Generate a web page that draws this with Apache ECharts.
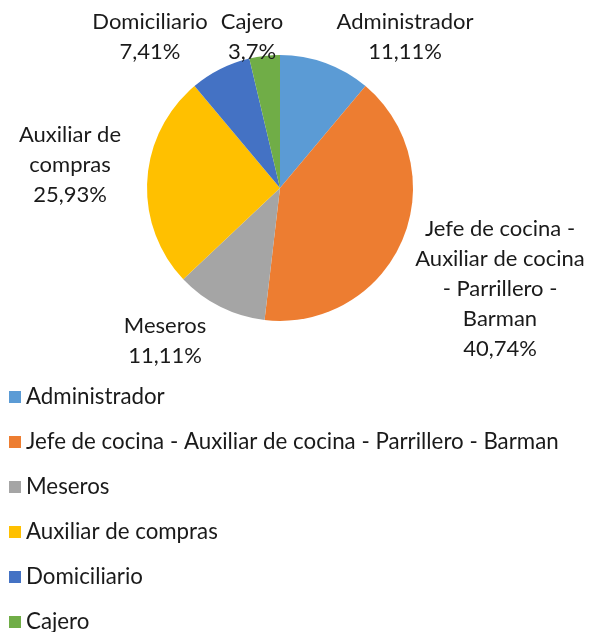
<!DOCTYPE html>
<html><head><meta charset="utf-8">
<script src="https://cdn.jsdelivr.net/npm/echarts@6/dist/echarts.min.js"></script>
<style>html,body{margin:0;padding:0;background:#fff}#c{width:589px;height:632px}</style>
</head><body><div id="c"></div>
<script>
var categories = ["Administrador","Jefe de cocina - Auxiliar de cocina - Parrillero - Barman","Meseros","Auxiliar de compras","Domiciliario","Cajero"];
var labelTexts = ["Administrador","Jefe de cocina -\nAuxiliar de cocina\n- Parrillero -\nBarman","Meseros","Auxiliar de\ncompras","Domiciliario","Cajero"];
var values = [3, 11, 3, 7, 2, 1];
var colors = ["#5B9BD5","#ED7D31","#A5A5A5","#FFC000","#4472C4","#70AD47"];
var labelPos = [[405,37],[500,289],[165,341],[70,165],[150,37],[252,37]];

var total = values.reduce(function(a,b){return a+b;},0);
function pct(v){
  var s = (v/total*100).toFixed(2).replace(/0+$/,'').replace(/\.$/,'');
  return s.replace('.', ',') + '%';
}
var FONT = "Lato, sans-serif";
var chart = echarts.init(document.getElementById('c'));
chart.setOption({
  animation:false,
  color: colors,
  legend:{
    orient:'vertical', left:9, top:386, padding:0, height:260,
    itemWidth:12, itemHeight:12, itemGap:23, icon:'rect',
    textStyle:{fontFamily:FONT, fontSize:22.3, color:'#1a1a1a'},
    data: categories
  },
  series:[{
    type:'pie', center:[280,188], radius:[0,133], startAngle:90, clockwise:true,
    data: categories.map(function(c,i){return {name:c, value:values[i]};}),
    label:{
      show:true, position:'outside', overflow:'none', width:300,
      fontFamily:FONT, fontSize:22, color:'#1a1a1a', lineHeight:30, align:'center',
      formatter:function(p){return labelTexts[p.dataIndex] + '\n' + pct(p.value);}
    },
    labelLine:{show:false},
    labelLayout:function(p){
      var pos = labelPos[p.dataIndex];
      return {x:pos[0], y:pos[1], align:'center', verticalAlign:'middle'};
    },
    emphasis:{disabled:true}
  }]
});
</script></body></html>
